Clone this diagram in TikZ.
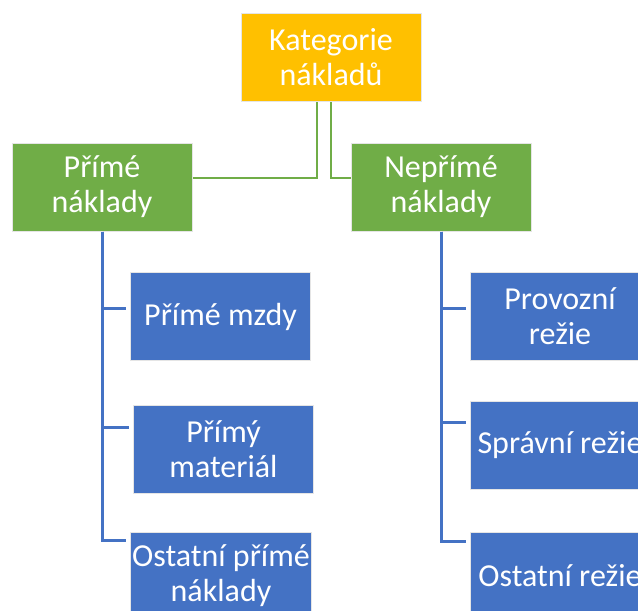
\documentclass[tikz,border=0pt]{standalone}
\usepackage{fontspec}
\setmainfont{Carlito}
\definecolor{topfill}{HTML}{FFC000}
\definecolor{groupfill}{HTML}{70AD47}
\definecolor{itemfill}{HTML}{4472C4}

\begin{document}
\begin{tikzpicture}[
  x=1pt, y=-1pt,
  font=\fontsize{32}{35}\selectfont,
  box/.style={
    rectangle, draw=gray!20, line width=1pt, text=white,
    align=center, minimum width=180pt, minimum height=88pt,
    inner sep=2pt
  },
  topbox/.style={box, fill=topfill},
  groupbox/.style={box, fill=groupfill},
  itembox/.style={box, fill=itemfill},
  greenline/.style={draw=groupfill, line width=2.2pt},
  blueline/.style={draw=itemfill, line width=3pt, shorten >=4pt}
]
\useasboundingbox (0,0) rectangle (638,611);
\clip (0,0) rectangle (638,611);

% Top node
\node[topbox] (kategorie) at (331,57.5) {Kategorie\\nákladů};

% Group nodes
\node[groupbox] (prime) at (102,187) {Přímé\\náklady};
\node[groupbox] (neprime) at (441,187) {Nepřímé\\náklady};

% Item nodes
\node[itembox] (mzdy) at (220.5,316.5) {Přímé mzdy};
\node[itembox] (material) at (223.5,449) {Přímý\\materiál};
\node[itembox] (ostatniprime) at (221,576) {Ostatní přímé\\náklady};
\node[itembox] (provozni) at (560,316.5) {Provozní\\režie};
\node[itembox] (spravni) at (560,445.5) {Správní režie};
\node[itembox] (ostatnirezie) at (560,576) {Ostatní režie};

% Connectors
\draw[greenline] ([xshift=-14pt]kategorie.south) |- ([yshift=9pt]prime.east);
\draw[greenline] (kategorie.south) |- ([yshift=9pt]neprime.west);

\draw[blueline] (prime.south) |- ([yshift=8.5pt]mzdy.west);
\draw[blueline] (prime.south) |- ([yshift=22pt]material.west);
\draw[blueline] (prime.south) |- ([yshift=36pt]ostatniprime.west);

\draw[blueline] (neprime.south) |- ([yshift=8.5pt]provozni.west);
\draw[blueline] (neprime.south) |- ([yshift=23pt]spravni.west);
\draw[blueline] (neprime.south) |- ([yshift=35pt]ostatnirezie.west);

\end{tikzpicture}
\end{document}
